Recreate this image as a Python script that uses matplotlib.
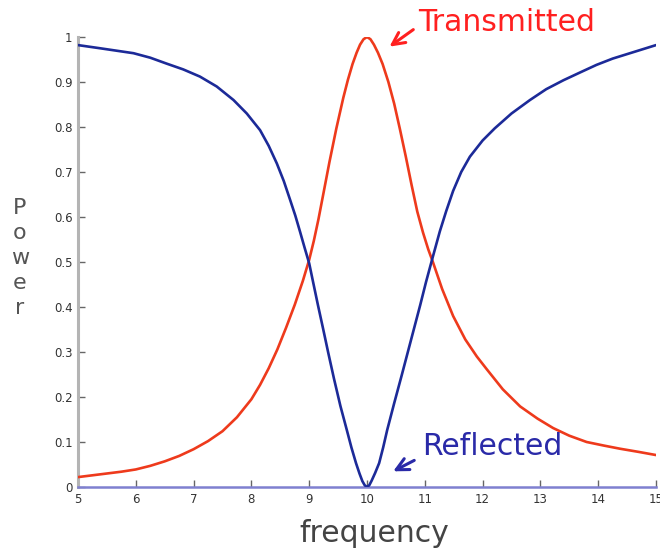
import matplotlib
matplotlib.use("Agg")
import matplotlib.pyplot as plt

# Transmitted power (red)
freq_T = [5.0, 5.25, 5.5, 5.75, 6.0, 6.25, 6.5, 6.75, 7.0, 7.25, 7.5, 7.75, 8.0, 8.15,
          8.3, 8.45, 8.6, 8.75, 8.89, 9.0, 9.08, 9.16, 9.25, 9.35, 9.47, 9.59, 9.67,
          9.75, 9.82, 9.88, 9.94, 10.0, 10.06, 10.12, 10.19, 10.27, 10.37, 10.47, 10.57,
          10.67, 10.77, 10.87, 10.97, 11.06, 11.14, 11.3, 11.49, 11.7, 11.9, 12.07,
          12.35, 12.65, 12.95, 13.22, 13.5, 13.8, 14.1, 14.38, 14.7, 15.0]
power_T = [0.022, 0.026, 0.030, 0.034, 0.039, 0.047, 0.057, 0.069, 0.084, 0.102, 0.124,
           0.155, 0.195, 0.227, 0.264, 0.306, 0.354, 0.405, 0.458, 0.505, 0.547, 0.595,
           0.655, 0.722, 0.797, 0.865, 0.905, 0.94, 0.965, 0.983, 0.995, 1.0, 0.995,
           0.983, 0.965, 0.94, 0.90, 0.852, 0.795, 0.735, 0.672, 0.612, 0.565, 0.528,
           0.50, 0.44, 0.38, 0.328, 0.29, 0.262, 0.217, 0.179, 0.152, 0.131, 0.114, 0.10,
           0.092, 0.085, 0.078, 0.071]

# Reflected power (blue)
freq_R = [5.0, 5.38, 5.96, 6.25, 6.53, 6.82, 7.11, 7.4, 7.69, 7.92, 8.15, 8.3, 8.44,
          8.56, 8.67, 8.76, 8.84, 8.92, 9.0, 9.06, 9.15, 9.24, 9.33, 9.43, 9.54, 9.65,
          9.73, 9.81, 9.87, 9.92, 9.96, 10.0, 10.04, 10.08, 10.14, 10.21, 10.28, 10.35,
          10.47, 10.60, 10.76, 10.92, 11.02, 11.14, 11.26, 11.37, 11.49, 11.63, 11.78,
          12.0, 12.21, 12.5, 12.82, 13.1, 13.40, 13.7, 13.97, 14.25, 14.55, 14.8, 15.0]
power_R = [0.982, 0.975, 0.964, 0.954, 0.941, 0.928, 0.912, 0.89, 0.86, 0.83, 0.793,
           0.758, 0.719, 0.68, 0.638, 0.603, 0.568, 0.532, 0.497, 0.46, 0.405, 0.352,
           0.298, 0.24, 0.18, 0.127, 0.088, 0.053, 0.03, 0.013, 0.004, 0.0, 0.004,
           0.014, 0.031, 0.053, 0.088, 0.127, 0.186, 0.248, 0.326, 0.404, 0.455, 0.512,
           0.568, 0.613, 0.658, 0.70, 0.734, 0.77, 0.797, 0.83, 0.86, 0.884, 0.904, 0.922,
           0.938, 0.952, 0.964, 0.974, 0.982]

x_ticks = [5, 6, 7, 8, 9, 10, 11, 12, 13, 14, 15]
y_ticks = [0, 0.1, 0.2, 0.3, 0.4, 0.5, 0.6, 0.7, 0.8, 0.9, 1]
y_tick_labels = ["0", "0.1", "0.2", "0.3", "0.4", "0.5", "0.6", "0.7", "0.8", "0.9", "1"]

RED = "#ee3a1c"
BLUE = "#1c2a98"

fig = plt.figure(figsize=(6.6, 5.5), dpi=100)
ax = fig.add_axes([78 / 660, 63 / 550, 578 / 660, 450 / 550])

ax.plot(freq_T, power_T, color=RED, lw=1.9, solid_capstyle="round",
        solid_joinstyle="round", zorder=3)
ax.plot(freq_R, power_R, color=BLUE, lw=1.9, solid_capstyle="round",
        solid_joinstyle="round", zorder=3)

ax.set_xlim(5, 15)
ax.set_ylim(0, 1)
ax.set_xticks(x_ticks)
ax.set_yticks(y_ticks)
ax.set_yticklabels(y_tick_labels)

for s in ["top", "right"]:
    ax.spines[s].set_visible(False)
ax.spines["left"].set_color("#b4b4b4")
ax.spines["left"].set_linewidth(2.2)
ax.spines["bottom"].set_color("#7f80d0")
ax.spines["bottom"].set_linewidth(1.8)

ax.tick_params(axis="both", direction="in", length=5, width=1, color="#666666",
               labelsize=8.5, labelcolor="#333333", pad=4)

fig.text(20 / 660, 1 - 258 / 550, "P\no\nw\ne\nr", ha="center", va="center",
         fontsize=16, color="#555555", linespacing=1.3)
fig.text(374 / 660, 1 - 534 / 550, "frequency", ha="center", va="center",
         fontsize=21.5, color="#444444")

ax.text(10.88, 1.033, "Transmitted", color="#ff2020", fontsize=21.5,
        ha="left", va="center", clip_on=False)
ax.annotate("", xy=(10.35, 0.975), xytext=(10.84, 1.02),
            arrowprops=dict(arrowstyle="->", color="#ff2020", lw=2.2, mutation_scale=22),
            annotation_clip=False)

ax.text(10.95, 0.09, "Reflected", color="#2a2aa8", fontsize=21.5,
        ha="left", va="center", clip_on=False)
ax.annotate("", xy=(10.41, 0.032), xytext=(10.86, 0.062),
            arrowprops=dict(arrowstyle="->", color="#2a2aa8", lw=2.2, mutation_scale=22),
            annotation_clip=False)

fig.savefig("out.png", dpi=100)
